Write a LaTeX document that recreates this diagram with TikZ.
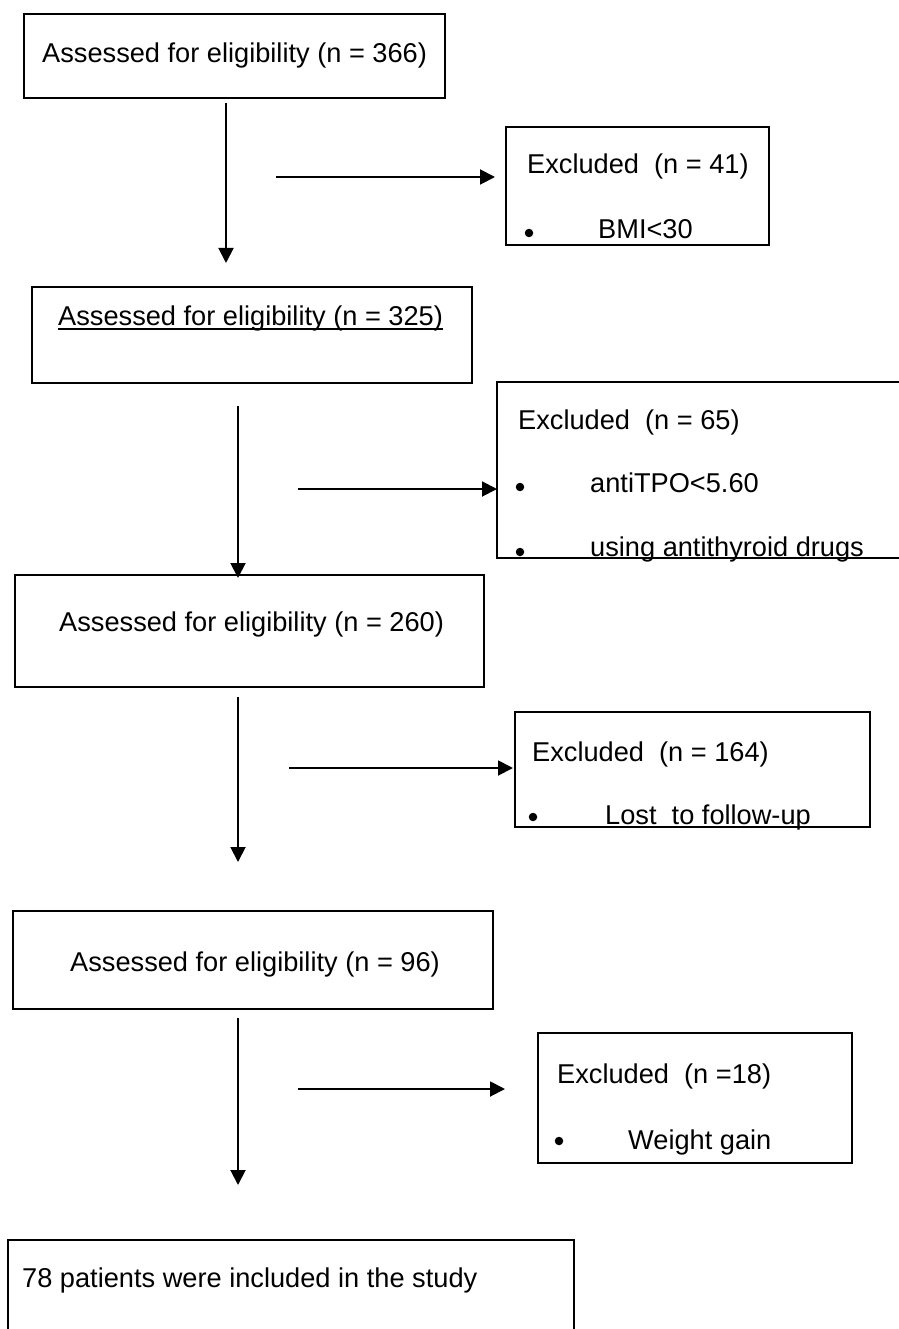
\documentclass[tikz,border=0pt]{standalone}
\usepackage{fontspec}
\setmainfont{Liberation Sans}
\usetikzlibrary{arrows.meta}
\begin{document}
\begin{tikzpicture}[x=1pt,y=-1pt,
  frame/.style={draw, line width=1.9pt, inner sep=0pt, outer sep=0pt, anchor=north west},
  openframe/.style={inner sep=0pt, outer sep=0pt, anchor=north west},
  edge/.style={line width=1.9pt},
  arr/.style={line width=1.9pt, -{Triangle[length=15pt,width=15pt]}},
  txt/.style={anchor=base west, inner sep=0pt, font=\fontsize{27.2}{32}\selectfont},
  bul/.style={circle, fill, inner sep=0pt, minimum size=8.5pt}]
\useasboundingbox (0,0) rectangle (898,1329);
% boxes
\node[frame, minimum width=421pt, minimum height=84pt] (b1) at (24,14) {};
\node[frame, minimum width=263pt, minimum height=118pt] (e1) at (506,127) {};
\node[frame, minimum width=440pt, minimum height=96pt] (b2) at (32,287) {};
\node[openframe, minimum width=410pt, minimum height=176pt] (e2) at (497,382) {};
\draw[edge] (e2.north east) -- (e2.north west) -- (e2.south west) -- (e2.south east);
\node[frame, minimum width=469pt, minimum height=112pt] (b3) at (15,575) {};
\node[frame, minimum width=355pt, minimum height=115pt] (e3) at (515,712) {};
\node[frame, minimum width=480pt, minimum height=98pt] (b4) at (13,911) {};
\node[frame, minimum width=314pt, minimum height=130pt] (e4) at (538,1033) {};
\node[openframe, minimum width=566pt, minimum height=110pt] (b5) at (8,1240) {};
\draw[edge] (b5.south west) -- (b5.north west) -- (b5.north east) -- (b5.south east);
% texts
\node[txt] (t1) at (42,63) {Assessed for eligibility (n = 366)};
\node[txt] (e1t) at (527,174) {Excluded~~(n = 41)};
\node[bul] (e1b) at (529,233) {};
\node[txt] (e1x) at (598,239) {BMI<30};
\node[txt] (t2) at (58,325) {Assessed for eligibility (n = 325)};
\draw[line width=1.7pt] ([yshift=-4pt]t2.base west) -- ([yshift=-4pt]t2.base east);
\node[txt] (e2t) at (518,429) {Excluded~~(n = 65)};
\node[bul] (e2b1) at (520,487) {};
\node[txt] (e2x1) at (590,492) {antiTPO<5.60};
\node[bul] (e2b2) at (520,552) {};
\node[txt] (e2x2) at (590,556) {using antithyroid drugs};
\node[txt] (t3) at (59,631) {Assessed for eligibility (n = 260)};
\node[txt] (e3t) at (532,761) {Excluded~~(n = 164)};
\node[bul] (e3b) at (533,817) {};
\node[txt] (e3x) at (605,824) {Lost~~to follow-up};
\node[txt] (t4) at (70,971) {Assessed for eligibility (n = 96)};
\node[txt] (e4t) at (557,1083) {Excluded~~(n =18)};
\node[bul] (e4b) at (559,1141) {};
\node[txt] (e4x) at (628,1149) {Weight gain};
\node[txt] (t5) at (22,1287) {78 patients were included in the study};
% connectors
\coordinate (a1s) at (226,103); \coordinate (a1e) at (226,263);
\coordinate (h1s) at (276,177); \coordinate (h1e) at (495,177);
\coordinate (a2s) at (238,406); \coordinate (a2e) at (238,578);
\coordinate (h2s) at (298,489); \coordinate (h2e) at (497,489);
\coordinate (a3s) at (238,697); \coordinate (a3e) at (238,862);
\coordinate (h3s) at (289,768); \coordinate (h3e) at (513,768);
\coordinate (a4s) at (238,1018); \coordinate (a4e) at (238,1185);
\coordinate (h4s) at (298,1089); \coordinate (h4e) at (505,1089);
\draw[arr] (a1s) -- (a1e);
\draw[arr] (h1s) -- (h1e);
\draw[arr] (a2s) -- (a2e);
\draw[arr] (h2s) -- (h2e);
\draw[arr] (a3s) -- (a3e);
\draw[arr] (h3s) -- (h3e);
\draw[arr] (a4s) -- (a4e);
\draw[arr] (h4s) -- (h4e);
\end{tikzpicture}
\end{document}
